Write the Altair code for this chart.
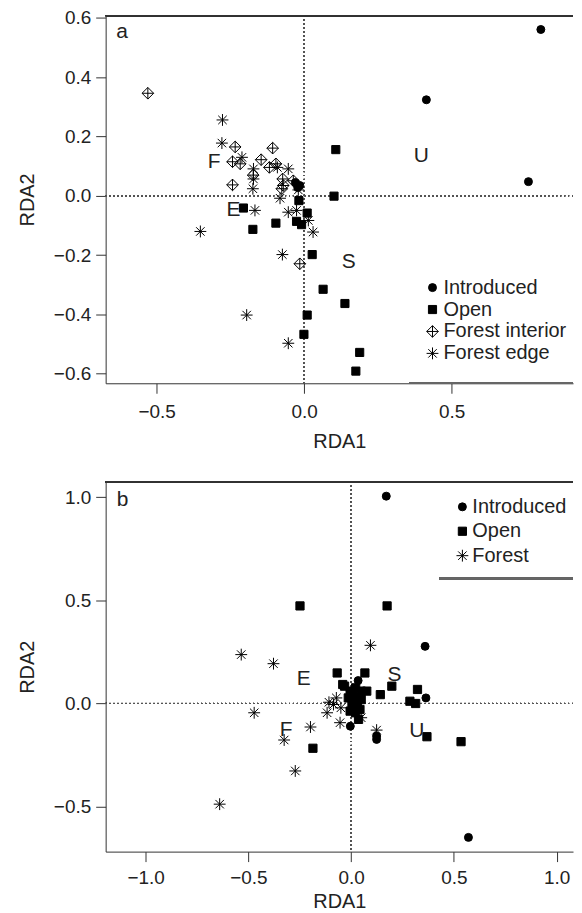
import altair as alt
import pandas as pd

FONT = "Liberation Sans"

# ---------------- Panel a data ----------------
a_intro_x = [0.802, 0.414, 0.760, -0.030, -0.015, -0.022]
a_intro_y = [0.561, 0.324, 0.048, 0.045, 0.035, 0.028]

a_open_x = [-0.206, -0.174, -0.096, -0.026, -0.009, 0.010, -0.018, 0.101, 0.107,
            0.027, 0.064, 0.138, 0.010, -0.001, 0.188, 0.175]
a_open_y = [-0.041, -0.113, -0.092, -0.086, -0.097, -0.058, -0.016, -0.001, 0.156,
            -0.198, -0.315, -0.363, -0.402, -0.467, -0.528, -0.591]

a_fint_x = [-0.530, -0.234, -0.243, -0.217, -0.243, -0.146, -0.107, -0.118, -0.096,
            -0.073, -0.037, -0.076, -0.071, -0.015, -0.173]
a_fint_y = [0.346, 0.165, 0.115, 0.108, 0.037, 0.122, 0.161, 0.096, 0.108,
            0.057, 0.051, 0.024, 0.035, -0.229, 0.070]

a_fedge_x = [-0.277, -0.279, -0.211, -0.172, -0.172, -0.174, -0.091, -0.054, -0.167,
             -0.352, -0.082, -0.054, -0.026, 0.014, 0.030, -0.074, -0.195, -0.054, -0.020]
a_fedge_y = [0.256, 0.178, 0.130, 0.091, 0.057, 0.024, 0.096, 0.091, -0.049,
             -0.120, -0.008, -0.055, -0.049, -0.083, -0.122, -0.198, -0.402, -0.497, 0.020]

a_lab_text = ["a", "F", "E", "S", "U"]
a_lab_x = [-0.617, -0.305, -0.240, 0.151, 0.397]
a_lab_y = [0.551, 0.115, -0.049, -0.224, 0.135]

# ---------------- Panel b data ----------------
b_intro_x = [0.171, 0.360, 0.364, 0.571, -0.004, 0.124, 0.124, 0.034, 0.013]
b_intro_y = [1.005, 0.277, 0.027, -0.649, -0.110, -0.174, -0.158, 0.111, 0.043]

b_open_x = [-0.249, 0.175, -0.068, 0.067, -0.041, 0.142, 0.198, 0.323, 0.286, 0.314,
            0.369, 0.535, -0.186, 0.036, -0.032, -0.005, 0.022, 0.049, 0.076, -0.014,
            0.022, 0.049, 0.004, 0.031, -0.005, 0.022, 0.043]
b_open_y = [0.473, 0.473, 0.148, 0.148, 0.092, 0.043, 0.084, 0.068, 0.011, 0.000,
            -0.161, -0.185, -0.217, -0.077, 0.084, 0.060, 0.076, 0.060, 0.060, 0.027,
            0.019, 0.019, -0.005, -0.013, -0.037, -0.045, -0.029]

b_forest_x = [-0.535, -0.378, -0.472, -0.640, -0.272, -0.326, -0.198, 0.094, 0.124,
              -0.054, -0.117, -0.108, -0.072, -0.050, -0.086, 0.049]
b_forest_y = [0.237, 0.193, -0.045, -0.488, -0.327, -0.177, -0.114, 0.282, -0.129,
              -0.093, -0.045, 0.006, 0.027, -0.021, -0.005, -0.069]

b_lab_text = ["b", "E", "S", "F", "U"]
b_lab_x = [-1.113, -0.231, 0.211, -0.317, 0.319]
b_lab_y = [0.986, 0.121, 0.140, -0.130, -0.134]

# ---------------- shapes ----------------
DIAMOND_PLUS = "M0,-1.4L1.4,0L0,1.4L-1.4,0ZM0,-1.4L0,1.4M-1.4,0L1.4,0"
ASTERISK = "M0,-1.4L0,1.4M-1.4,0L1.4,0M-1,-1L1,1M-1,1L1,-1"


def make_df(groups):
    rows = []
    for name, xs, ys in groups:
        for x, y in zip(xs, ys):
            rows.append({"x": x, "y": y, "group": name})
    return pd.DataFrame(rows)


def panel(df, labels, xdom, ydom, xticks, yticks, w, h, groups, shapes, fills, sizes,
          leg_x, leg_y, row_pad, lab_off, line_x, line_y, x_lab_pad, x_title_pad):
    xs = alt.Scale(domain=xdom, nice=False, zero=False)
    ys = alt.Scale(domain=ydom, nice=False, zero=False)
    leg = alt.Legend(title=None, orient="none", legendX=leg_x, legendY=leg_y,
                     labelFontSize=20, labelFont=FONT, labelColor="#222",
                     padding=0, rowPadding=row_pad, labelOffset=lab_off,
                     symbolStrokeColor="black", symbolStrokeWidth=1)
    pts = alt.Chart(df).mark_point(opacity=1, strokeWidth=1).encode(
        x=alt.X("x:Q", scale=xs, title="RDA1",
                axis=alt.Axis(values=xticks, format=".1f", labelPadding=x_lab_pad,
                              titlePadding=x_title_pad)),
        y=alt.Y("y:Q", scale=ys, title="RDA2",
                axis=alt.Axis(values=yticks, format=".1f")),
        shape=alt.Shape("group:N", scale=alt.Scale(domain=groups, range=shapes), legend=leg),
        fill=alt.Fill("group:N", scale=alt.Scale(domain=groups, range=fills), legend=leg),
        stroke=alt.Stroke("group:N", scale=alt.Scale(domain=groups, range=["black"] * len(groups)),
                          legend=leg),
        size=alt.Size("group:N", scale=alt.Scale(domain=groups, range=sizes), legend=leg),
    )
    vline = alt.Chart(df).mark_rule(strokeDash=[1, 3], color="#555", strokeWidth=1).encode(
        x=alt.datum(0))
    hline = alt.Chart(df).mark_rule(strokeDash=[1, 3], color="#555", strokeWidth=1).encode(
        y=alt.datum(0))
    top = alt.Chart(df).mark_rule(color="#333", strokeWidth=1).encode(
        x=alt.value(0), x2=alt.value(w), y=alt.value(0))
    legline = alt.Chart(df).mark_rule(color="#666", strokeWidth=1.5).encode(
        x=alt.value(line_x), x2=alt.value(w), y=alt.value(line_y))
    txt = alt.Chart(labels).mark_text(font=FONT, fontSize=21, color="#222").encode(
        x=alt.X("x:Q", scale=xs, title="RDA1"),
        y=alt.Y("y:Q", scale=ys, title="RDA2"),
        text="t:N")
    return alt.layer(vline, hline, top, legline, pts, txt).properties(width=w, height=h)


df_a = make_df([("Introduced", a_intro_x, a_intro_y),
                ("Open", a_open_x, a_open_y),
                ("Forest interior", a_fint_x, a_fint_y),
                ("Forest edge", a_fedge_x, a_fedge_y)])
lab_a = pd.DataFrame({"x": a_lab_x, "y": a_lab_y, "t": a_lab_text})

df_b = make_df([("Introduced", b_intro_x, b_intro_y),
                ("Open", b_open_x, b_open_y),
                ("Forest", b_forest_x, b_forest_y)])
lab_b = pd.DataFrame({"x": b_lab_x, "y": b_lab_y, "t": b_lab_text})

W = 469
pa = panel(df_a, lab_a, [-0.673, 0.911], [-0.632, 0.608],
           [-0.5, 0.0, 0.5], [-0.6, -0.4, -0.2, 0.0, 0.2, 0.4, 0.6],
           W, 369,
           ["Introduced", "Open", "Forest interior", "Forest edge"],
           ["circle", "square", DIAMOND_PLUS, ASTERISK],
           ["black", "black", "transparent", "transparent"],
           [64, 72, 260, 280],
           318, 263, 2, 1, 305, 369, 9, 10)

pb = panel(df_b, lab_b, [-1.195, 1.080], [-0.718, 1.074],
           [-1.0, -0.5, 0.0, 0.5, 1.0], [-0.5, 0.0, 0.5, 1.0],
           W, 371,
           ["Introduced", "Open", "Forest"],
           ["circle", "square", ASTERISK],
           ["black", "black", "transparent"],
           [64, 72, 280],
           348, 15, 4.5, 0, 335, 97, 7, 4)

chart = alt.vconcat(pa, pb, spacing=30).resolve_scale(
    x="independent", y="independent", shape="independent",
    fill="independent", stroke="independent", size="independent").resolve_legend(
    shape="independent", fill="independent", stroke="independent", size="independent").properties(
    padding={"left": 9, "top": -1, "right": 0, "bottom": 0}
).configure_view(stroke=None).configure_axis(
    labelFont=FONT, titleFont=FONT, labelFontSize=19, titleFontSize=20,
    titleFontWeight="normal", labelColor="#222", titleColor="#222",
    domainColor="#333", tickColor="#333", tickSize=10,
    grid=False, labelFlush=False, labelOverlap=False
).configure_axisY(titlePadding=16, labelPadding=5)

chart.save("out.html", embed_options={"renderer": "svg", "actions": False})
